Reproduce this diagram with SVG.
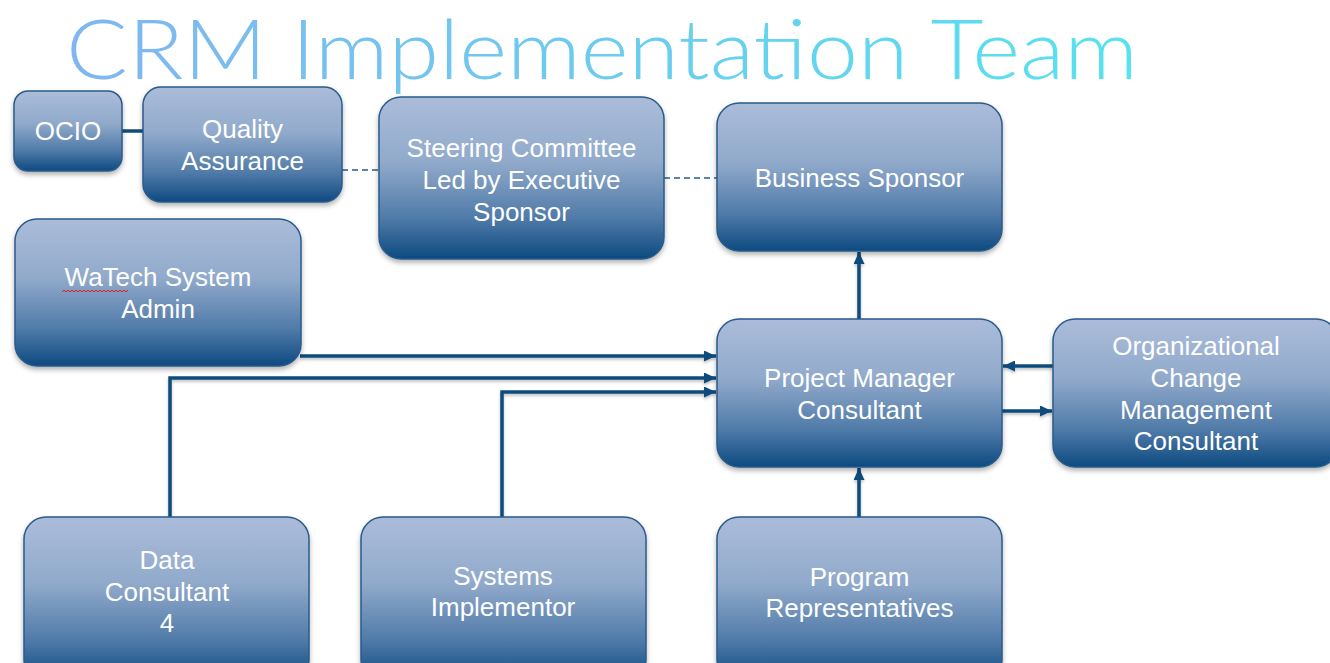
<svg xmlns="http://www.w3.org/2000/svg" width="1330" height="663" viewBox="0 0 1330 663">
<defs>
<linearGradient id="nodeFill" x1="0" y1="0" x2="0" y2="1">
<stop offset="0" stop-color="#abbcda"/>
<stop offset="0.4" stop-color="#91aacb"/>
<stop offset="0.75" stop-color="#4f7aa8"/>
<stop offset="1" stop-color="#0d4a80"/>
</linearGradient>
<linearGradient id="titleFill" x1="66" y1="0" x2="1138" y2="0" gradientUnits="userSpaceOnUse">
<stop offset="0" stop-color="#80b6f0"/>
<stop offset="1" stop-color="#58e2ee"/>
</linearGradient>
<filter id="shadow" x="-10%" y="-10%" width="120%" height="130%">
<feDropShadow dx="0" dy="3" stdDeviation="2.5" flood-color="#000" flood-opacity="0.3"/>
</filter>
<filter id="lshadow" x="-5%" y="-5%" width="110%" height="110%">
<feDropShadow dx="0" dy="2" stdDeviation="1.5" flood-color="#000" flood-opacity="0.25"/>
</filter>
<marker id="arrow" markerUnits="userSpaceOnUse" markerWidth="12" markerHeight="11" refX="12" refY="5.5" orient="auto">
<path d="M0,0 L12,5.5 L0,11 z" fill="#0f4c7c"/>
</marker>
<style>
.node rect { fill: url(#nodeFill); stroke: #2a5b8b; stroke-width: 1.5; filter: url(#shadow); }
.node text { font-family: "Liberation Sans", Arial, sans-serif; font-size: 26px; fill: #ffffff; text-anchor: middle; }
.conn { fill: none; stroke: #0f4c7c; stroke-width: 3.5; }
.dash { fill: none; stroke: #2a5b8b; stroke-width: 1.3; stroke-dasharray: 6 4; }
.arr { marker-end: url(#arrow); }
.title { font-family: "Lato", "Open Sans", "DejaVu Sans", sans-serif; font-weight: 300; font-size: 82px; fill: url(#titleFill); }
</style>
</defs>
<rect width="1330" height="663" fill="#ffffff"/>
<text class="title" x="66" y="79" textLength="1072" lengthAdjust="spacingAndGlyphs">CRM Implementation Team</text>

<g id="connectors">
<path class="conn" d="M122 131 H143"/>
<path class="dash" d="M342 170 H379"/>
<path class="dash" d="M664 178 H717"/>
<g filter="url(#lshadow)">
<path class="conn arr" d="M859 319 V252"/>
<path class="conn arr" d="M300 356 H716"/>
<path class="conn arr" d="M170 517 V378 H716"/>
<path class="conn arr" d="M502 517 V392 H716"/>
<path class="conn arr" d="M1053 366 H1003"/>
<path class="conn arr" d="M1002 411 H1052"/>
<path class="conn arr" d="M859 517 V468"/>
</g>
</g>

<g id="ocio" class="node"><rect x="14" y="91" width="108" height="80" rx="14"/><text x="68" y="140">OCIO</text></g>
<g id="qa" class="node"><rect x="143" y="87" width="199" height="115" rx="18"/><text x="242.5" y="138">Quality</text><text x="242.5" y="170">Assurance</text></g>
<g id="steering" class="node"><rect x="379" y="97" width="285" height="162" rx="22"/><text x="521.5" y="157">Steering Committee</text><text x="521.5" y="189">Led by Executive</text><text x="521.5" y="221">Sponsor</text></g>
<g id="business" class="node"><rect x="717" y="103" width="285" height="148" rx="22"/><text x="859.5" y="187">Business Sponsor</text></g>
<g id="watech" class="node"><rect x="15" y="219" width="286" height="147" rx="22"/><text x="158" y="286">WaTech System</text><text x="158" y="318">Admin</text><path d="M62 292 l2 -2 l2 2 l2 -2 l2 2 l2 -2 l2 2 l2 -2 l2 2 l2 -2 l2 2 l2 -2 l2 2 l2 -2 l2 2 l2 -2 l2 2 l2 -2 l2 2 l2 -2 l2 2 l2 -2 l2 2 l2 -2 l2 2 l2 -2 l2 2 l2 -2 l2 2 l2 -2 l2 2 l2 -2 l2 2 l2 -2" fill="none" stroke="#e02020" stroke-width="1"/></g>
<g id="pm" class="node"><rect x="717" y="319" width="285" height="148" rx="22"/><text x="859.5" y="387">Project Manager</text><text x="859.5" y="419">Consultant</text></g>
<g id="ocm" class="node"><rect x="1053" y="319" width="285" height="148" rx="22"/><text x="1196" y="355">Organizational</text><text x="1196" y="387">Change</text><text x="1196" y="419">Management</text><text x="1196" y="450">Consultant</text></g>
<g id="data" class="node"><rect x="24" y="517" width="285" height="165" rx="22"/><text x="167" y="569">Data</text><text x="167" y="601">Consultant</text><text x="167" y="632">4</text></g>
<g id="sys" class="node"><rect x="361" y="517" width="285" height="165" rx="22"/><text x="503" y="585">Systems</text><text x="503" y="616">Implementor</text></g>
<g id="prog" class="node"><rect x="717" y="517" width="285" height="165" rx="22"/><text x="859.5" y="586">Program</text><text x="859.5" y="617">Representatives</text></g>
</svg>
